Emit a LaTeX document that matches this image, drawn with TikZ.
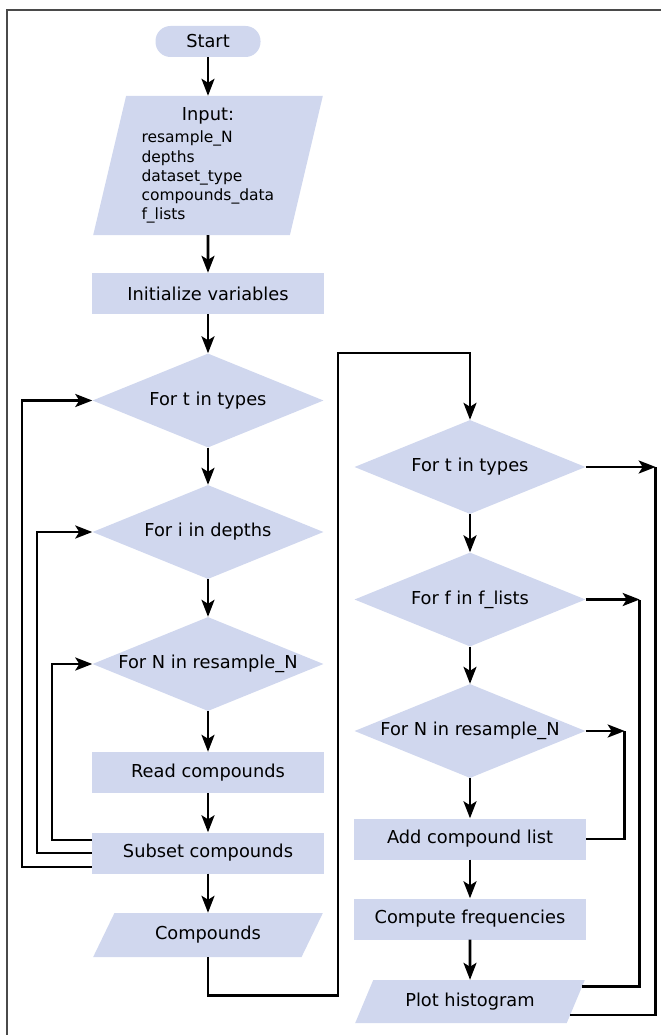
\documentclass[tikz,border=0pt]{standalone}
\usepackage{fontspec}
\setmainfont{DejaVu Sans}
\usepackage{xcolor}
\usepackage{tikz}
\usetikzlibrary{positioning, arrows.meta, shapes.geometric, calc}
\definecolor{flowblue}{HTML}{D0D7EE}
\definecolor{framegray}{HTML}{4A4A4A}

\begin{document}
\begin{tikzpicture}[x=1pt, y=-1pt,
    font=\fontsize{17.8}{21}\selectfont,
    procbox/.style={fill=flowblue, minimum width=232pt, minimum height=41pt, inner sep=0pt},
    loopdiam/.style={diamond, aspect=2.4, fill=flowblue, minimum width=231pt,
                     minimum height=94pt, inner sep=0pt},
    iobox/.style={trapezium, trapezium stretches, fill=flowblue, minimum width=230pt,
                  inner sep=0pt},
    flow/.style={line width=2.6pt, -{Stealth[length=17pt, width=13pt, inset=4pt]}},
    back/.style={line width=2.6pt}]
  \useasboundingbox (0,0) rectangle (661,1035);
  \draw[framegray, line width=1.6pt] (7,1035) -- (7,10) -- (661,10);

  % left column
  \node[fill=flowblue, rounded corners=15pt, minimum width=105pt, minimum height=31pt,
        inner sep=0pt] (start) at (208,41.5) {Start};
  \node[iobox, trapezium left angle=77, trapezium right angle=103, minimum height=139pt,
        text width=133pt, align=left] (inp) at (208,165.5) {%
    {\centering Input:\par}\vspace{3pt}
    {\fontsize{15.5}{19.2}\selectfont resample\_N\\ depths\\ dataset\_type\\
     compounds\_data\\ f\_lists\par}};
  \node[procbox] (init) at (208,293.5) {Initialize variables};
  \node[loopdiam] (t1) at (208,400.5) {For t in types};
  \node[loopdiam] (i1) at (208,532) {For i in depths};
  \node[loopdiam] (n1) at (208,664) {For N in resample\_N};
  \node[procbox] (read) at (208,772.5) {Read compounds};
  \node[procbox] (subset) at (208,853) {Subset compounds};
  \node[iobox, trapezium left angle=55, trapezium right angle=125,
        minimum height=44pt] (cmp) at (208,935) {Compounds};

  % right column
  \node[loopdiam] (t2) at (470,467) {For t in types};
  \node[loopdiam] (f2) at (470,599.5) {For f in f\_lists};
  \node[loopdiam] (n2) at (470,731) {For N in resample\_N};
  \node[procbox] (add) at (470,839) {Add compound list};
  \node[procbox] (freq) at (470,919) {Compute frequencies};
  \node[iobox, trapezium left angle=55, trapezium right angle=125,
        minimum height=43pt] (hist) at (470,1001.5) {Plot histogram};

  \foreach \a/\b in {start/inp, inp/init, init/t1, t1/i1, i1/n1, n1/read, read/subset,
                     subset/cmp, t2/f2, f2/n2, n2/add, add/freq, freq/hist}
    \draw[flow] (\a) -- (\b);

  % loops back on the left
  \draw[flow] ([yshift=13pt]subset.west) -- ++(-40,0) |- (n1.west);
  \draw[flow] (subset.west) -- ++(-55,0) |- (i1.west);
  \draw[flow] ([yshift=-14pt]subset.west) -- ++(-70,0) |- (t1.west);

  % over to the right column
  \coordinate (cbend) at (338,353);
  \draw[flow] (cmp.south) -- ++(0,38) -| (cbend) -| (t2.north);

  % loops on the right
  \draw[flow] (t2.east) -- ++(70,0) coordinate (tc);
  \draw[flow] (f2.east) -- ++(54,0) coordinate (fc);
  \draw[flow] (n2.east) -- ++(39,0) coordinate (nc);
  \draw[back] ($(hist.top right corner)!0.81!(hist.bottom right corner)$) -| (tc);
  \draw[back] ($(hist.top right corner)!0.16!(hist.bottom right corner)$) -| (fc);
  \draw[back] (add.east) -| (nc);
\end{tikzpicture}
\end{document}
